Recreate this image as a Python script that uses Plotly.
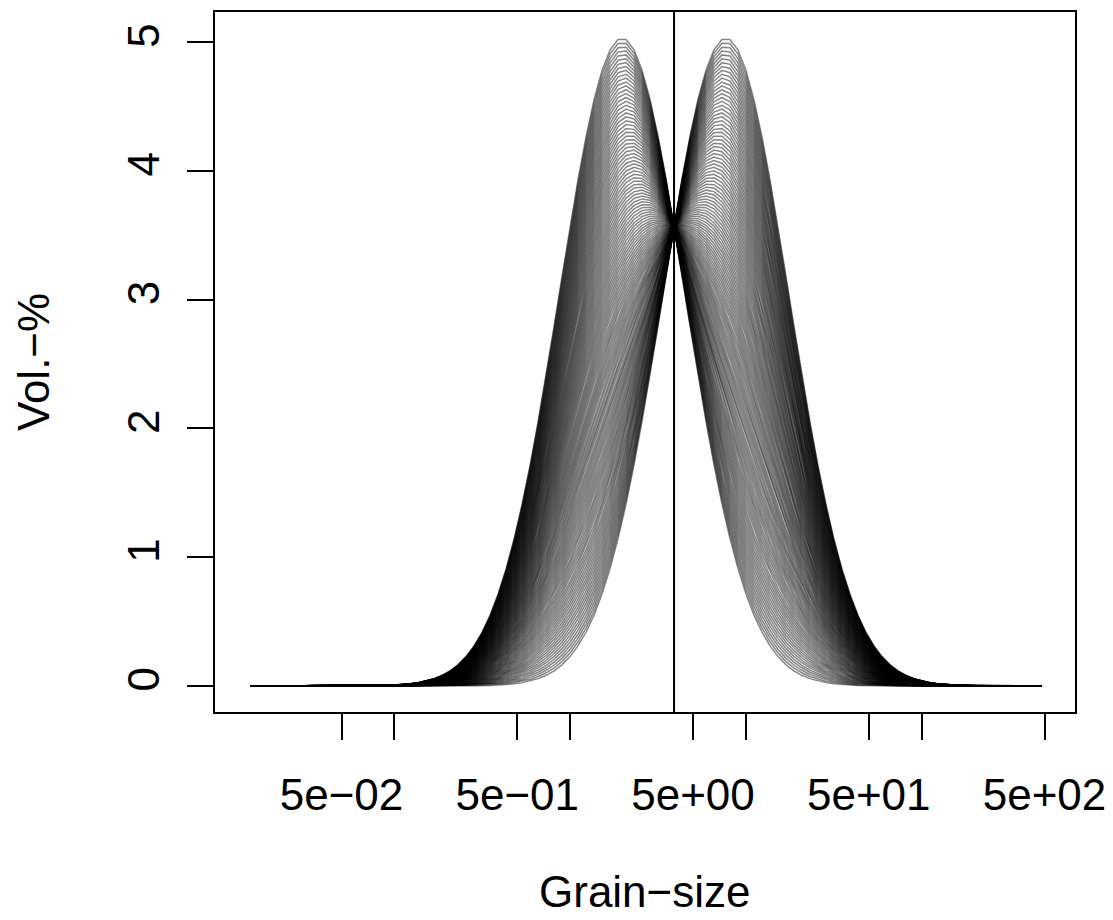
import plotly.graph_objects as go

# Grain-size classes (100 log-spaced classes)
grain_size = [
    0.01520, 0.01688, 0.01874, 0.02081, 0.02310, 0.02565, 0.02848, 0.03162, 0.03511, 0.03899,
    0.04329, 0.04806, 0.05337, 0.05926, 0.06579, 0.07305, 0.08111, 0.09006,
    0.1000, 0.1110, 0.1233, 0.1369, 0.1520, 0.1688, 0.1874, 0.2081, 0.2310, 0.2565, 0.2848,
    0.3162, 0.3511, 0.3899, 0.4329, 0.4806, 0.5337, 0.5926, 0.6579, 0.7305, 0.8111, 0.9006,
    1.000, 1.110, 1.233, 1.369, 1.520, 1.688, 1.874, 2.081, 2.310, 2.565, 2.848,
    3.162, 3.511, 3.899, 4.329, 4.806, 5.337, 5.926, 6.579, 7.305, 8.111, 9.006,
    10.00, 11.10, 12.33, 13.69, 15.20, 16.88, 18.74, 20.81, 23.10, 25.65, 28.48,
    31.62, 35.11, 38.99, 43.29, 48.06, 53.37, 59.26, 65.79, 73.05, 81.11, 90.06,
    100.0, 111.0, 123.3, 136.9, 152.0, 168.8, 187.4, 208.1, 231.0, 256.5, 284.8,
    316.2, 351.1, 389.9, 432.9, 480.6,
]

# End-member 1 (fine mode), Vol.-%
em1 = [
    0.0, 0.0, 0.0, 0.0, 0.0, 0.0, 0.0, 0.0, 0.0, 0.0,
    0.000, 0.000, 0.000, 0.001, 0.001, 0.002, 0.003, 0.004, 0.007, 0.011,
    0.017, 0.026, 0.039, 0.057, 0.083, 0.118, 0.166, 0.230, 0.313, 0.419,
    0.552, 0.716, 0.913, 1.146, 1.415, 1.719, 2.056, 2.418, 2.798, 3.186,
    3.570, 3.935, 4.268, 4.554, 4.781, 4.939, 5.020, 5.020, 4.939, 4.781,
    4.554, 4.268, 3.935, 3.570, 3.186, 2.798, 2.418, 2.056, 1.719, 1.415,
    1.146, 0.913, 0.716, 0.552, 0.419, 0.313, 0.230, 0.166, 0.118, 0.083,
    0.057, 0.039, 0.026, 0.017, 0.011, 0.007, 0.004, 0.003, 0.002, 0.001,
    0.001, 0.000, 0.000, 0.000, 0.0, 0.0, 0.0, 0.0, 0.0, 0.0,
    0.0, 0.0, 0.0, 0.0, 0.0, 0.0, 0.0, 0.0, 0.0, 0.0,
]

# End-member 2 (coarse mode), Vol.-%
em2 = [
    0.0, 0.0, 0.0, 0.0, 0.0, 0.0, 0.0, 0.0, 0.0, 0.0,
    0.0, 0.0, 0.0, 0.0, 0.0, 0.0, 0.0, 0.0, 0.0, 0.0,
    0.0, 0.0, 0.0, 0.000, 0.000, 0.000, 0.001, 0.001, 0.002, 0.003,
    0.004, 0.007, 0.011, 0.017, 0.026, 0.039, 0.057, 0.083, 0.118, 0.166,
    0.230, 0.313, 0.419, 0.552, 0.716, 0.913, 1.146, 1.415, 1.719, 2.056,
    2.418, 2.798, 3.186, 3.570, 3.935, 4.268, 4.554, 4.781, 4.939, 5.020,
    5.020, 4.939, 4.781, 4.554, 4.268, 3.935, 3.570, 3.186, 2.798, 2.418,
    2.056, 1.719, 1.415, 1.146, 0.913, 0.716, 0.552, 0.419, 0.313, 0.230,
    0.166, 0.118, 0.083, 0.057, 0.039, 0.026, 0.017, 0.011, 0.007, 0.004,
    0.003, 0.002, 0.001, 0.001, 0.000, 0.000, 0.000, 0.0, 0.0, 0.0,
]

# Mixing proportions of end-member 1 (121 mixtures)
mix_prop = [
    0.0000, 0.0083, 0.0167, 0.0250, 0.0333, 0.0417, 0.0500, 0.0583, 0.0667, 0.0750, 0.0833, 0.0917,
    0.1000, 0.1083, 0.1167, 0.1250, 0.1333, 0.1417, 0.1500, 0.1583, 0.1667, 0.1750, 0.1833, 0.1917,
    0.2000, 0.2083, 0.2167, 0.2250, 0.2333, 0.2417, 0.2500, 0.2583, 0.2667, 0.2750, 0.2833, 0.2917,
    0.3000, 0.3083, 0.3167, 0.3250, 0.3333, 0.3417, 0.3500, 0.3583, 0.3667, 0.3750, 0.3833, 0.3917,
    0.4000, 0.4083, 0.4167, 0.4250, 0.4333, 0.4417, 0.4500, 0.4583, 0.4667, 0.4750, 0.4833, 0.4917,
    0.5000, 0.5083, 0.5167, 0.5250, 0.5333, 0.5417, 0.5500, 0.5583, 0.5667, 0.5750, 0.5833, 0.5917,
    0.6000, 0.6083, 0.6167, 0.6250, 0.6333, 0.6417, 0.6500, 0.6583, 0.6667, 0.6750, 0.6833, 0.6917,
    0.7000, 0.7083, 0.7167, 0.7250, 0.7333, 0.7417, 0.7500, 0.7583, 0.7667, 0.7750, 0.7833, 0.7917,
    0.8000, 0.8083, 0.8167, 0.8250, 0.8333, 0.8417, 0.8500, 0.8583, 0.8667, 0.8750, 0.8833, 0.8917,
    0.9000, 0.9083, 0.9167, 0.9250, 0.9333, 0.9417, 0.9500, 0.9583, 0.9667, 0.9750, 0.9833, 0.9917,
    1.0000,
]

vline_x = 3.9

x_tickvals = [0.05, 0.1, 0.5, 1, 5, 10, 50, 100, 500]
x_ticktext = ["5e\u221202", "", "5e\u221201", "", "5e+00", "", "5e+01", "", "5e+02"]
y_tickvals = [0, 1, 2, 3, 4, 5]
y_ticktext = ["0", "1", "2", "3", "4", "5"]

FONT = "Liberation Sans, Arial, Helvetica, sans-serif"
FS = 44

fig = go.Figure()
for a in mix_prop:
    fig.add_trace(go.Scatter(
        x=grain_size,
        y=[a * e1 + (1 - a) * e2 for e1, e2 in zip(em1, em2)],
        mode="lines",
        line=dict(color="rgba(0,0,0,0.48)", width=1.5),
        showlegend=False, hoverinfo="skip",
    ))

fig.add_shape(type="line", xref="x", yref="paper", x0=vline_x, x1=vline_x, y0=0, y1=1,
              line=dict(color="black", width=2))

fig.update_layout(
    width=1113, height=920,
    margin=dict(l=215, r=38, t=12, b=208),
    paper_bgcolor="white", plot_bgcolor="white",
    font=dict(family=FONT, size=FS, color="black"),
    showlegend=False,
    xaxis=dict(
        type="log", range=[-2.0208, 2.8725], autorange=False,
        tickvals=x_tickvals, ticktext=x_ticktext,
        ticks="outside", ticklen=26, tickwidth=2, tickcolor="black",
        showline=True, mirror=True, linecolor="black", linewidth=2,
        showgrid=False, zeroline=False, automargin=False,
        ticklabelstandoff=17,
        tickfont=dict(family=FONT, size=FS, color="black"),
    ),
    yaxis=dict(
        range=[-0.202, 5.233], autorange=False,
        tickvals=y_tickvals, ticktext=y_ticktext, tickangle=-90,
        ticks="outside", ticklen=26, tickwidth=2, tickcolor="black",
        showline=True, mirror=True, linecolor="black", linewidth=2,
        showgrid=False, zeroline=False, automargin=False,
        ticklabelstandoff=10,
        tickfont=dict(family=FONT, size=FS, color="black"),
    ),
    annotations=[
        dict(text="Grain\u2212size", xref="paper", yref="paper", x=0.5, y=-0.256,
             xanchor="center", yanchor="middle", showarrow=False,
             font=dict(family=FONT, size=FS, color="black")),
        dict(text="Vol.\u2212%", xref="paper", yref="paper", x=-0.2116, y=0.5,
             xanchor="center", yanchor="middle", textangle=-90, showarrow=False,
             font=dict(family=FONT, size=FS, color="black")),
    ],
)

fig.write_html("out.html")
